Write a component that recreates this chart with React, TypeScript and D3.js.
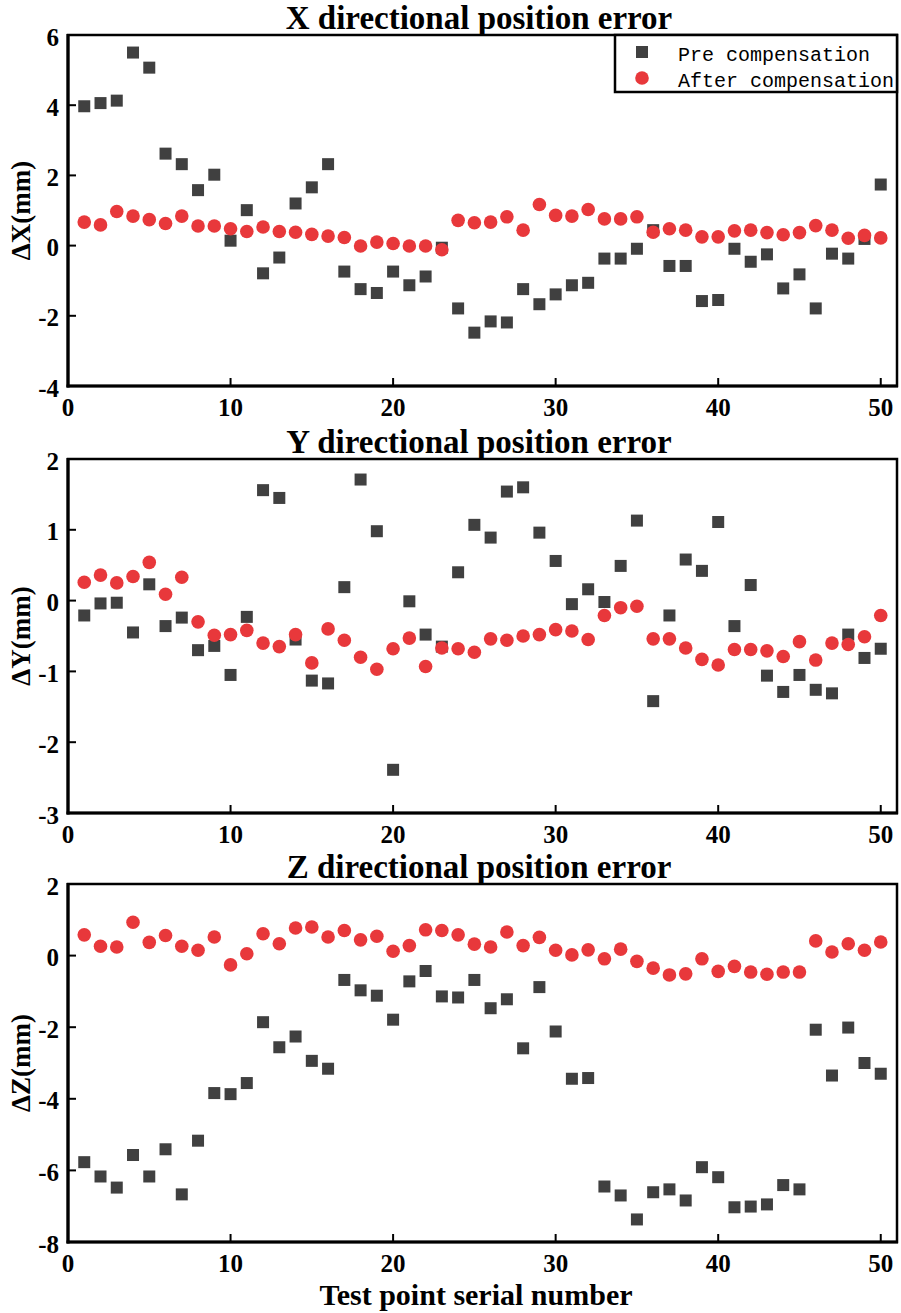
import React from 'react'
import * as d3 from 'd3'

// test point serial numbers 1..50
const pointNo = d3.range(1, 51)

// X direction (mm)
const xPre = [3.97, 4.06, 4.13, 5.5, 5.07, 2.62, 2.32, 1.58, 2.02, 0.14,
  1.01, -0.79, -0.34, 1.2, 1.66, 2.32, -0.74, -1.24, -1.35, -0.74,
  -1.13, -0.88, -0.06, -1.79, -2.48, -2.16, -2.19, -1.24, -1.67, -1.39,
  -1.13, -1.06, -0.37, -0.37, -0.09, 0.44, -0.58, -0.58, -1.58, -1.55,
  -0.09, -0.46, -0.25, -1.22, -0.82, -1.79, -0.23, -0.37, 0.19, 1.74]
const xAfter = [0.67, 0.59, 0.97, 0.84, 0.74, 0.63, 0.84, 0.56, 0.56, 0.48,
  0.4, 0.53, 0.4, 0.38, 0.32, 0.27, 0.23, -0.01, 0.1, 0.06,
  -0.01, -0.01, -0.12, 0.72, 0.65, 0.67, 0.82, 0.44, 1.17, 0.86,
  0.84, 1.03, 0.76, 0.76, 0.82, 0.38, 0.48, 0.44, 0.25, 0.25,
  0.42, 0.44, 0.37, 0.31, 0.37, 0.57, 0.44, 0.21, 0.29, 0.22]

// Y direction (mm)
const yPre = [-0.21, -0.04, -0.03, -0.45, 0.23, -0.36, -0.24, -0.7, -0.64, -1.05,
  -0.23, 1.56, 1.45, -0.55, -1.13, -1.17, 0.19, 1.71, 0.98, -2.39,
  -0.01, -0.48, -0.65, 0.4, 1.07, 0.89, 1.54, 1.6, 0.96, 0.56,
  -0.05, 0.16, -0.02, 0.49, 1.13, -1.42, -0.21, 0.58, 0.42, 1.11,
  -0.36, 0.22, -1.06, -1.29, -1.05, -1.26, -1.31, -0.48, -0.81, -0.68]
const yAfter = [0.26, 0.36, 0.25, 0.34, 0.54, 0.09, 0.33, -0.3, -0.49, -0.48,
  -0.42, -0.6, -0.65, -0.48, -0.88, -0.4, -0.56, -0.8, -0.97, -0.68,
  -0.53, -0.93, -0.67, -0.68, -0.73, -0.54, -0.56, -0.5, -0.48, -0.41,
  -0.43, -0.55, -0.21, -0.1, -0.08, -0.54, -0.54, -0.67, -0.83, -0.91,
  -0.69, -0.69, -0.71, -0.79, -0.58, -0.84, -0.6, -0.62, -0.51, -0.21]

// Z direction (mm)
const zPre = [-5.77, -6.17, -6.48, -5.57, -6.17, -5.41, -6.67, -5.17, -3.84, -3.87,
  -3.56, -1.86, -2.56, -2.26, -2.94, -3.16, -0.68, -0.97, -1.12, -1.79,
  -0.72, -0.43, -1.14, -1.17, -0.68, -1.47, -1.22, -2.59, -0.88, -2.12,
  -3.44, -3.42, -6.45, -6.7, -7.37, -6.61, -6.53, -6.84, -5.91, -6.19,
  -7.03, -7.01, -6.95, -6.41, -6.53, -2.07, -3.35, -2.01, -3.0, -3.3]
const zAfter = [0.58, 0.26, 0.24, 0.93, 0.37, 0.56, 0.26, 0.15, 0.52, -0.26,
  0.05, 0.61, 0.33, 0.77, 0.8, 0.52, 0.7, 0.44, 0.54, 0.12,
  0.28, 0.72, 0.7, 0.58, 0.32, 0.24, 0.66, 0.28, 0.51, 0.15,
  0.02, 0.16, -0.09, 0.18, -0.16, -0.35, -0.54, -0.51, -0.09, -0.44,
  -0.3, -0.46, -0.52, -0.46, -0.46, 0.41, 0.1, 0.33, 0.15, 0.38]

const xTicks = [0, 10, 20, 30, 40, 50]
const legendLabels = ['Pre compensation', 'After compensation']

const W = 901
const H = 1313
const left = 68
const right = 897
const serif = '"Liberation Serif", "Times New Roman", serif'
const squareColor = '#404040'
const circleColor = '#e8383b'

const panels = [
  { title: 'X directional position error', label: 'ΔX(mm)', pre: xPre, after: xAfter,
    domain: [-4, 6], ticks: [-4, -2, 0, 2, 4, 6], top: 35, bottom: 386, legend: true },
  { title: 'Y directional position error', label: 'ΔY(mm)', pre: yPre, after: yAfter,
    domain: [-3, 2], ticks: [-3, -2, -1, 0, 1, 2], top: 459, bottom: 813, legend: false },
  { title: 'Z directional position error', label: 'ΔZ(mm)', pre: zPre, after: zAfter,
    domain: [-8, 2], ticks: [-8, -6, -4, -2, 0, 2], top: 884, bottom: 1242, legend: false },
]

const x = d3.scaleLinear().domain([0, 51]).range([left, right])

function Panel({ p }: { p: typeof panels[0] }) {
  const y = d3.scaleLinear().domain(p.domain).range([p.bottom, p.top])
  const sq = 12
  return (
    <g>
      <text x={479} y={p.top - 6} textAnchor="middle" fontFamily={serif}
        fontWeight="bold" fontSize={33}>{p.title}</text>
      <text transform={`translate(21,${(p.top + p.bottom) / 2}) rotate(-90)`}
        textAnchor="middle" dominantBaseline="central" fontFamily={serif}
        fontWeight="bold" fontSize={27}>{p.label}</text>

      {/* frame */}
      <rect x={left} y={p.top} width={right - left} height={p.bottom - p.top}
        fill="none" stroke="#000" strokeWidth={2.5} />
      <line x1={left} x2={left} y1={p.top - 1} y2={p.bottom + 1.5} stroke="#000" strokeWidth={3.2} />
      <line x1={left - 1.5} x2={right + 1} y1={p.bottom} y2={p.bottom} stroke="#000" strokeWidth={3.2} />

      {/* ticks */}
      {xTicks.map(t => (
        <g key={'x' + t}>
          {t > 0 && <line x1={x(t)} x2={x(t)} y1={p.bottom} y2={p.bottom - 8} stroke="#000" strokeWidth={2} />}
          <text x={x(t)} y={p.bottom + 30} textAnchor="middle" fontFamily={serif}
            fontWeight="bold" fontSize={25}>{t}</text>
        </g>
      ))}
      {p.ticks.map(t => (
        <g key={'y' + t}>
          {t !== p.domain[0] && t !== p.domain[1] &&
            <line x1={left} x2={left + 8} y1={y(t)} y2={y(t)} stroke="#000" strokeWidth={2} />}
          <text x={59} y={y(t) + 2} textAnchor="end" dominantBaseline="central"
            fontFamily={serif} fontWeight="bold" fontSize={25}>{t}</text>
        </g>
      ))}

      {/* points */}
      {p.pre.map((v, i) => (
        <rect key={'s' + i} x={x(pointNo[i]) - sq / 2} y={y(v) - sq / 2} width={sq} height={sq}
          fill={squareColor} />
      ))}
      {p.after.map((v, i) => (
        <circle key={'c' + i} cx={x(pointNo[i])} cy={y(v)} r={6.8} fill={circleColor} />
      ))}

      {p.legend && (
        <g>
          <rect x={615} y={p.top} width={right - 615} height={57} fill="#fff"
            stroke="#000" strokeWidth={2.5} />
          <rect x={642 - 6} y={52 - 6} width={12} height={12} fill={squareColor} />
          <circle cx={642} cy={78} r={6.8} fill={circleColor} />
          {legendLabels.map((l, i) => (
            <text key={l} x={678} y={61 + i * 26} fontFamily='"Liberation Mono", "DejaVu Sans Mono", monospace'
              fontSize={20}>{l}</text>
          ))}
        </g>
      )}
    </g>
  )
}

export default function App() {
  return (
    <svg width={W} height={H} style={{ position: 'absolute', left: 0, top: 0, background: '#fff' }}>
      <rect width={W} height={H} fill="#fff" />
      {panels.map(p => <Panel key={p.title} p={p} />)}
      <text x={476} y={1305} textAnchor="middle" fontFamily={serif} fontWeight="bold"
        fontSize={30}>Test point serial number</text>
    </svg>
  )
}
